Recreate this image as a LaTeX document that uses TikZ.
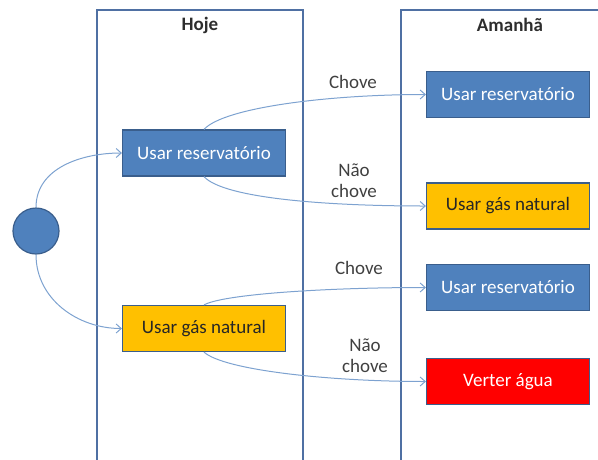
\documentclass[tikz,border=0pt]{standalone}
\usepackage{fontspec}
\setmainfont{Carlito}
\definecolor{laneblue}{RGB}{79, 112, 163}
\definecolor{boxblue}{RGB}{79, 129, 189}
\definecolor{boxedge}{RGB}{58, 94, 140}
\definecolor{gasyellow}{RGB}{255, 192, 0}
\definecolor{verterred}{RGB}{255, 0, 0}
\definecolor{arrowblue}{RGB}{125, 162, 208}
\definecolor{labelgray}{RGB}{64, 64, 64}
\usepackage{tikz}
\usetikzlibrary{positioning, arrows.meta, shapes, calc}

\begin{document}
\begin{tikzpicture}[x=1pt, y=-1pt,
  lane/.style={draw=laneblue, line width=1.6pt},
  titulo/.style={font=\fontsize{19}{22}\selectfont\bfseries, text=labelgray!70!black},
  acao/.style={draw=boxedge, line width=1.2pt, minimum width=163pt, minimum height=46pt,
               inner sep=0pt, font=\fontsize{19}{22}\selectfont},
  reserv/.style={acao, fill=boxblue, text=white},
  gas/.style={acao, fill=gasyellow, text=black!85},
  verter/.style={acao, fill=verterred, text=white},
  rotulo/.style={align=center, font=\fontsize{19}{22}\selectfont, text=labelgray},
  seta/.style={draw=arrowblue, line width=1pt, -{Straight Barb[length=5pt, width=9pt]}}
]
\useasboundingbox (0,0) rectangle (598,459);
\clip (0,0) rectangle (598,459);

% raias
\draw[lane] (97,470) -- (97,10) -- (303,10) -- (303,470);
\draw[lane] (401,470) -- (401,10) -- (620,10);
\node[titulo] (hoje) at (200,25) {Hoje};
\node[titulo] (amanha) at (510,25) {Amanhã};

% estado inicial
\node[circle, draw=boxedge, line width=1.2pt, fill=boxblue, minimum size=46pt, inner sep=0pt] (inicio) at (36,231) {};

% decisoes de hoje
\node[reserv] (hres) at (204,153) {Usar reservatório};
\node[gas] (hgas) at (204,328.5) {Usar gás natural};

% decisoes de amanha
\node[reserv] (ares1) at (508,94.5) {Usar reservatório};
\node[gas] (agas) at (508,206) {Usar gás natural};
\node[reserv] (ares2) at (508,287.5) {Usar reservatório};
\node[verter] (aver) at (508,381.5) {Verter água};

% rotulos
\node[rotulo] (chove1) at (353,82) {Chove};
\node[rotulo] (naochove1) at (354,181) {Não\\[-1pt]chove};
\node[rotulo] (chove2) at (359,268) {Chove};
\node[rotulo] (naochove2) at (365,356) {Não\\[-1pt]chove};

% transicoes
\draw[seta] (inicio.north) to[out=90, in=180] (hres.west);
\draw[seta] (inicio.south) to[out=-90, in=180] (hgas.west);
\draw[seta] (hres.north) .. controls +(20,-22) and +(-97,0) .. (ares1.west);
\draw[seta] (hres.south) .. controls +(20,22) and +(-97,0) .. (agas.west);
\draw[seta] (hgas.north) .. controls +(20,-11) and +(-97,0) .. (ares2.west);
\draw[seta] (hgas.south) .. controls +(20,18) and +(-97,0) .. (aver.west);
\end{tikzpicture}
\end{document}
